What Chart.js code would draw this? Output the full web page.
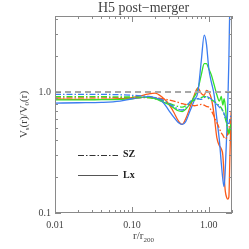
<!DOCTYPE html>
<html>
<head>
<meta charset="utf-8">
<script src="https://cdn.jsdelivr.net/npm/chart.js@4.4.1/dist/chart.umd.min.js"></script>
<style>
  html, body { margin: 0; padding: 0; background: #fff; }
  #chart { display: block; }
</style>
</head>
<body>
<canvas id="chart" width="249" height="249"></canvas>
<script>
// r / r200 sample points
const radius = [0.01, 0.02, 0.04, 0.07, 0.1, 0.13, 0.16, 0.2, 0.25, 0.3, 0.35, 0.4, 0.45, 0.5, 0.57, 0.65, 0.72,
  0.8, 0.87, 0.93, 1.0, 1.08, 1.17, 1.27, 1.37, 1.45, 1.52, 1.58, 1.64, 1.7, 1.76, 1.82, 1.88, 1.95];

// Lx (solid)
const blueLx = [0.81, 0.815, 0.82, 0.84, 0.88, 0.9, 0.91, 0.9, 0.83, 0.71, 0.62, 0.56, 0.54, 0.57, 0.7, 0.86, 1.0,
  1.85, 2.95, 2.5, 1.55, 1.2, 0.95, 0.6, 0.4, 0.26, 0.19, 0.165, 0.24, 0.42, 0.75, 1.8, 6, 10];
const greenLx = [0.86, 0.86, 0.865, 0.87, 0.88, 0.9, 0.91, 0.88, 0.83, 0.79, 0.74, 0.7, 0.69, 0.72, 0.8, 0.92, 1.05,
  1.4, 1.72, 1.72, 1.55, 1.38, 1.15, 0.95, 0.84, 0.92, 0.78, 0.88, 0.76, 0.58, 0.47, 0.45, 0.5, 0.55];
const orangeLx = [0.875, 0.87, 0.87, 0.88, 0.9, 0.93, 0.96, 0.98, 0.9, 0.8, 0.68, 0.58, 0.54, 0.6, 0.75, 0.95, 1.08,
  0.97, 0.94, 1.03, 1.0, 0.88, 0.65, 0.42, 0.36, 0.34, 0.3, 0.2, 0.15, 0.135, 0.13, 0.135, 0.3, 0.7];

// SZ (dash-dot)
const blueSZ = [0.955, 0.955, 0.955, 0.95, 0.94, 0.93, 0.92, 0.9, 0.86, 0.8, 0.76, 0.72, 0.71, 0.74, 0.83, 0.88, 0.88,
  0.87, 0.9, 0.92, 0.9, 0.87, 0.83, 0.79, 0.75, 0.72, 0.7, 0.66, 0.62, 0.58, 0.55, 0.55, 0.6, 0.65];
const greenSZ = [0.915, 0.915, 0.915, 0.91, 0.91, 0.905, 0.9, 0.88, 0.85, 0.81, 0.78, 0.76, 0.75, 0.77, 0.82, 0.86, 0.88,
  0.9, 0.92, 0.91, 0.88, 0.86, 0.84, 0.8, 0.77, 0.74, 0.7, 0.65, 0.6, 0.55, 0.5, 0.46, 0.48, 0.5];
const orangeSZ = [0.895, 0.895, 0.895, 0.9, 0.9, 0.9, 0.9, 0.9, 0.88, 0.86, 0.84, 0.82, 0.8, 0.79, 0.78, 0.77, 0.78,
  0.79, 0.78, 0.76, 0.75, 0.7, 0.63, 0.56, 0.5, 0.46, 0.44, 0.42, 0.41, 0.42, 0.45, 0.5, 0.55, 0.6];

const refLevel = 1.0;
const xRange = [0.01, 2.0];
const yRange = [0.1, 4.25];

const xTickValues = [0.01, 0.02, 0.03, 0.04, 0.05, 0.06, 0.07, 0.08, 0.09, 0.1, 0.2, 0.3, 0.4, 0.5, 0.6, 0.7, 0.8, 0.9, 1, 2];
const xMajor = { 0.01: '0.01', 0.1: '0.10', 1: '1.00' };
const yTickValues = [0.1, 0.2, 0.3, 0.4, 0.5, 0.6, 0.7, 0.8, 0.9, 1, 2, 3, 4];
const yMajor = { 0.1: '0.1', 1: '1.0' };

const BLUE = 'rgb(60,125,240)';
const GREEN = 'rgb(50,225,40)';
const ORANGE = 'rgb(250,90,25)';
const AXIS = '#8a8a8a';
const TEXT = '#444';
const SERIF = '"Liberation Serif", "DejaVu Serif", serif';

function pairs(ys) {
  return radius.map((r, i) => ({ x: r, y: ys[i] }));
}

function line(label, ys, color, dashed) {
  return {
    label: label,
    data: pairs(ys),
    borderColor: color,
    borderWidth: 1.3,
    borderDash: dashed ? [6, 2, 1.5, 2] : [],
    pointRadius: 0,
    fill: false,
    cubicInterpolationMode: 'monotone'
  };
}

const datasets = [
  {
    label: 'ref',
    data: xRange.map(x => ({ x: x, y: refLevel })),
    borderColor: '#a8a8a8',
    borderWidth: 2,
    borderDash: [6, 4],
    pointRadius: 0
  },
  line('blue SZ', blueSZ, BLUE, true),
  line('green SZ', greenSZ, GREEN, true),
  line('orange SZ', orangeSZ, ORANGE, true),
  line('blue Lx', blueLx, BLUE, false),
  line('green Lx', greenLx, GREEN, false),
  line('orange Lx', orangeLx, ORANGE, false)
];

// frame, inward ticks, titles and the small line-style key
const decorations = {
  id: 'decorations',
  afterDraw(chart) {
    const ctx = chart.ctx;
    const a = chart.chartArea;
    const xs = chart.scales.x;
    const ys = chart.scales.y;
    ctx.save();
    ctx.strokeStyle = AXIS;
    ctx.lineWidth = 1;
    ctx.strokeRect(a.left + 0.5, a.top + 0.5, a.right - a.left - 1, a.bottom - a.top - 1);

    ctx.beginPath();
    xTickValues.forEach(v => {
      const px = Math.round(xs.getPixelForValue(v)) + 0.5;
      const len = xMajor[v] ? 6 : 3;
      ctx.moveTo(px, a.bottom); ctx.lineTo(px, a.bottom - len);
      ctx.moveTo(px, a.top); ctx.lineTo(px, a.top + len);
    });
    yTickValues.forEach(v => {
      const py = Math.round(ys.getPixelForValue(v)) + 0.5;
      const len = yMajor[v] ? 6 : 3;
      ctx.moveTo(a.left, py); ctx.lineTo(a.left + len, py);
      ctx.moveTo(a.right, py); ctx.lineTo(a.right - len, py);
    });
    ctx.stroke();

    const cx = (a.left + a.right) / 2;
    const cy = (a.top + a.bottom) / 2;

    // title
    ctx.fillStyle = TEXT;
    ctx.font = '14px ' + SERIF;
    ctx.textAlign = 'center';
    ctx.textBaseline = 'middle';
    ctx.fillText('H5 post\u2212merger', cx, 8);

    // x title: r/r200
    const xMain = 'r/r';
    const xSub = '200';
    ctx.font = '11px ' + SERIF;
    const w1 = ctx.measureText(xMain).width;
    ctx.font = '7px ' + SERIF;
    const w2 = ctx.measureText(xSub).width;
    const x0 = cx - (w1 + w2) / 2;
    ctx.textAlign = 'left';
    ctx.font = '11px ' + SERIF;
    ctx.fillText(xMain, x0, 236);
    ctx.font = '7px ' + SERIF;
    ctx.fillText(xSub, x0 + w1, 240);

    // y title: Vs(r)/V0(r)
    ctx.translate(24, cy);
    ctx.rotate(-Math.PI / 2);
    const parts = [['V', 0], ['s', 1], ['(r)/V', 0], ['0', 1], ['(r)', 0]];
    let total = 0;
    parts.forEach(p => { ctx.font = (p[1] ? '7px ' : '11px ') + SERIF; total += ctx.measureText(p[0]).width; });
    let px = -total / 2;
    parts.forEach(p => {
      ctx.font = (p[1] ? '7px ' : '11px ') + SERIF;
      ctx.fillText(p[0], px, p[1] ? 3 : 0);
      px += ctx.measureText(p[0]).width;
    });
    ctx.restore();

    // key
    ctx.save();
    ctx.strokeStyle = '#333';
    ctx.lineWidth = 1.2;
    ctx.setLineDash([6, 2, 1.5, 2]);
    ctx.beginPath(); ctx.moveTo(78, 155.5); ctx.lineTo(118, 155.5); ctx.stroke();
    ctx.setLineDash([]);
    ctx.strokeStyle = '#555';
    ctx.beginPath(); ctx.moveTo(78, 175.5); ctx.lineTo(118, 175.5); ctx.stroke();
    ctx.fillStyle = '#222';
    ctx.font = 'bold 10px ' + SERIF;
    ctx.textAlign = 'left';
    ctx.textBaseline = 'middle';
    ctx.fillText('SZ', 123, 154);
    ctx.fillText('Lx', 123, 175);
    ctx.restore();
  }
};

new Chart(document.getElementById('chart'), {
  type: 'line',
  data: { datasets: datasets },
  options: {
    responsive: false,
    animation: false,
    devicePixelRatio: 1,
    layout: { padding: { top: 16, right: 17, left: 0, bottom: 0 } },
    plugins: { legend: { display: false }, tooltip: { enabled: false }, title: { display: false } },
    scales: {
      x: {
        type: 'logarithmic',
        min: xRange[0],
        max: xRange[1],
        afterBuildTicks: s => { s.ticks = xTickValues.map(v => ({ value: v })); },
        afterFit: s => { s.height = 36; },
        grid: { display: false, drawTicks: false },
        border: { display: false },
        ticks: {
          autoSkip: false,
          maxRotation: 0,
          padding: 6,
          color: TEXT,
          font: { family: SERIF, size: 10 },
          callback: v => xMajor[v] || ''
        }
      },
      y: {
        type: 'logarithmic',
        min: yRange[0],
        max: yRange[1],
        afterBuildTicks: s => { s.ticks = yTickValues.map(v => ({ value: v })); },
        afterFit: s => { s.width = 55; },
        grid: { display: false, drawTicks: false },
        border: { display: false },
        ticks: {
          autoSkip: false,
          padding: 4,
          color: TEXT,
          font: { family: SERIF, size: 10 },
          callback: v => yMajor[v] || ''
        }
      }
    }
  },
  plugins: [decorations]
});
</script>
</body>
</html>
